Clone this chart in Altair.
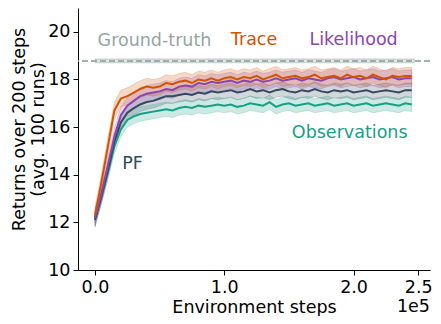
import altair as alt
import pandas as pd

steps = list(range(0, 250000, 5000))

trace = [12.3, 13.7, 15.2, 16.7, 17.2, 17.3, 17.45, 17.6, 17.7, 17.65,
         17.7, 17.85, 17.8, 17.9, 17.95, 17.85, 18.0, 17.95, 18.05, 17.95,
         18.05, 18.1, 18.0, 18.1, 18.05, 18.15, 18.0, 18.1, 18.2, 18.05,
         18.1, 18.15, 18.05, 18.1, 18.2, 18.05, 18.1, 18.15, 18.05, 18.2,
         18.1, 18.15, 18.05, 18.2, 18.1, 18.0, 18.15, 18.1, 18.15, 18.15]
likelihood = [12.2, 13.2, 14.4, 15.6, 16.5, 16.9, 17.1, 17.3, 17.4, 17.45,
              17.5, 17.6, 17.55, 17.7, 17.75, 17.7, 17.85, 17.8, 17.9, 17.85,
              17.9, 17.95, 17.85, 17.95, 17.9, 18.0, 17.9, 17.95, 18.05, 17.95,
              18.0, 18.05, 17.95, 18.05, 18.0, 17.95, 18.05, 18.1, 18.0, 18.05,
              18.1, 18.0, 18.05, 18.1, 18.0, 18.05, 18.1, 18.0, 18.05, 18.05]
pf = [12.1, 13.1, 14.2, 15.4, 16.2, 16.6, 16.8, 16.95, 17.05, 17.1,
      17.2, 17.3, 17.3, 17.35, 17.4, 17.35, 17.45, 17.4, 17.5, 17.45,
      17.5, 17.55, 17.45, 17.5, 17.6, 17.5, 17.55, 17.45, 17.55, 17.6,
      17.5, 17.45, 17.55, 17.5, 17.6, 17.5, 17.45, 17.55, 17.5, 17.55,
      17.45, 17.5, 17.55, 17.45, 17.5, 17.55, 17.5, 17.45, 17.55, 17.55]
observations = [12.2, 13.1, 14.1, 15.2, 15.9, 16.3, 16.45, 16.55, 16.6, 16.65,
                16.7, 16.75, 16.7, 16.8, 16.85, 16.8, 16.9, 16.85, 16.9, 16.95,
                16.9, 16.95, 16.85, 16.9, 17.0, 16.95, 16.9, 17.05, 16.85, 16.95,
                17.0, 16.9, 16.95, 17.0, 16.9, 16.95, 17.0, 16.9, 16.95, 17.0,
                16.9, 16.95, 17.0, 16.9, 16.95, 17.0, 16.95, 16.9, 17.0, 16.95]

series_names = ["Observations", "PF", "Likelihood", "Trace"]
series_values = [observations, pf, likelihood, trace]
band_halfwidth = [0.3, 0.3, 0.35, 0.35]
series_colors = ["#16a085", "#34495e", "#8e44ad", "#d35400"]

ground_truth = 18.78
ground_truth_band = [18.7, 18.86]
ground_truth_steps = [0, 247000]

label_texts = ["Ground-truth", "Trace", "Likelihood", "Observations", "PF"]
label_x = [46000, 123000, 200000, 197000, 29000]
label_y = [19.6, 19.67, 19.67, 15.75, 14.45]
label_colors = ["#95a5a6", "#d35400", "#8e44ad", "#16a085", "#34495e"]

rows = []
for name, vals, hw in zip(series_names, series_values, band_halfwidth):
    for s, v in zip(steps, vals):
        rows.append({"step": s, "mean": v, "lo": v - hw, "hi": v + hw, "series": name})
df = pd.DataFrame(rows)

gt_df = pd.DataFrame({"step": ground_truth_steps,
                      "lo": [ground_truth_band[0]] * 2,
                      "hi": [ground_truth_band[1]] * 2})
gt_line = pd.DataFrame({"y": [ground_truth]})
labels = pd.DataFrame({"x": label_x, "y": label_y, "text": label_texts, "c": label_colors})

FONT = "DejaVu Sans"
FS = 17.5
xscale = alt.Scale(domain=[-13150, 259100], nice=False, zero=False)
yscale = alt.Scale(domain=[10, 21], nice=False, zero=False)
cscale = alt.Scale(domain=series_names, range=series_colors)

xaxis = alt.Axis(values=[0, 100000, 200000, 250000],
                 labelExpr="format(datum.value / 100000, '.1f')",
                 title="Environment steps", tickSize=5, labelPadding=3,
                 titlePadding=3, labelFlush=False)
yaxis = alt.Axis(values=[10, 12, 14, 16, 18, 20], tickSize=5, labelPadding=3,
                 title=["Returns over 200 steps", "(avg. 100 runs)"], titlePadding=0,
                 titleLineHeight=19, titleY=121)

gt_band = alt.Chart(gt_df).mark_area(fill="#95a5a6", fillOpacity=0.3,
                                     stroke="#95a5a6", strokeWidth=0.8, strokeOpacity=0.6).encode(
    x=alt.X("step:Q", scale=xscale, axis=xaxis),
    y=alt.Y("lo:Q", scale=yscale, axis=yaxis),
    y2="hi:Q",
)
gt_rule = alt.Chart(gt_line).mark_rule(color="#8a9899", strokeDash=[6, 3], strokeWidth=1.5).encode(
    y=alt.Y("y:Q", scale=yscale)
)

bands = alt.Chart(df).mark_area(fillOpacity=0.22, strokeOpacity=0.35, strokeWidth=0.6).encode(
    x=alt.X("step:Q", scale=xscale),
    y=alt.Y("lo:Q", scale=yscale),
    y2="hi:Q",
    fill=alt.Color("series:N", scale=cscale, legend=None),
    stroke=alt.Color("series:N", scale=cscale, legend=None),
    detail="series:N",
)
lines = alt.Chart(df).mark_line(strokeWidth=2).encode(
    x=alt.X("step:Q", scale=xscale),
    y=alt.Y("mean:Q", scale=yscale),
    color=alt.Color("series:N", scale=cscale, legend=None),
)

texts = alt.Chart(labels).mark_text(font=FONT, fontSize=FS, align="center", baseline="middle").encode(
    x=alt.X("x:Q", scale=xscale),
    y=alt.Y("y:Q", scale=yscale),
    text="text:N",
    color=alt.Color("c:N", scale=None),
)

offset = alt.Chart(pd.DataFrame({"t": ["1e5"]})).mark_text(
    font=FONT, fontSize=FS, align="right", baseline="alphabetic", color="black").encode(
    x=alt.datum(259100, scale=xscale),
    y=alt.value(304),
    text="t:N",
)

chart = alt.layer(gt_band, gt_rule, bands, lines, texts, offset).properties(
    width=352, height=262,
    autosize=alt.AutoSizeParams(type="none"),
    padding={"left": 70, "top": 0, "right": 3, "bottom": 46},
).configure_view(stroke=None).configure_axis(
    grid=False, domainColor="black", tickColor="black", labelColor="black",
    titleColor="black", labelFont=FONT, titleFont=FONT, labelFontSize=FS,
    titleFontSize=FS, titleFontWeight="normal", domainWidth=1, tickWidth=1,
)

chart.save("out.html", embed_options={"renderer": "svg", "actions": False})
